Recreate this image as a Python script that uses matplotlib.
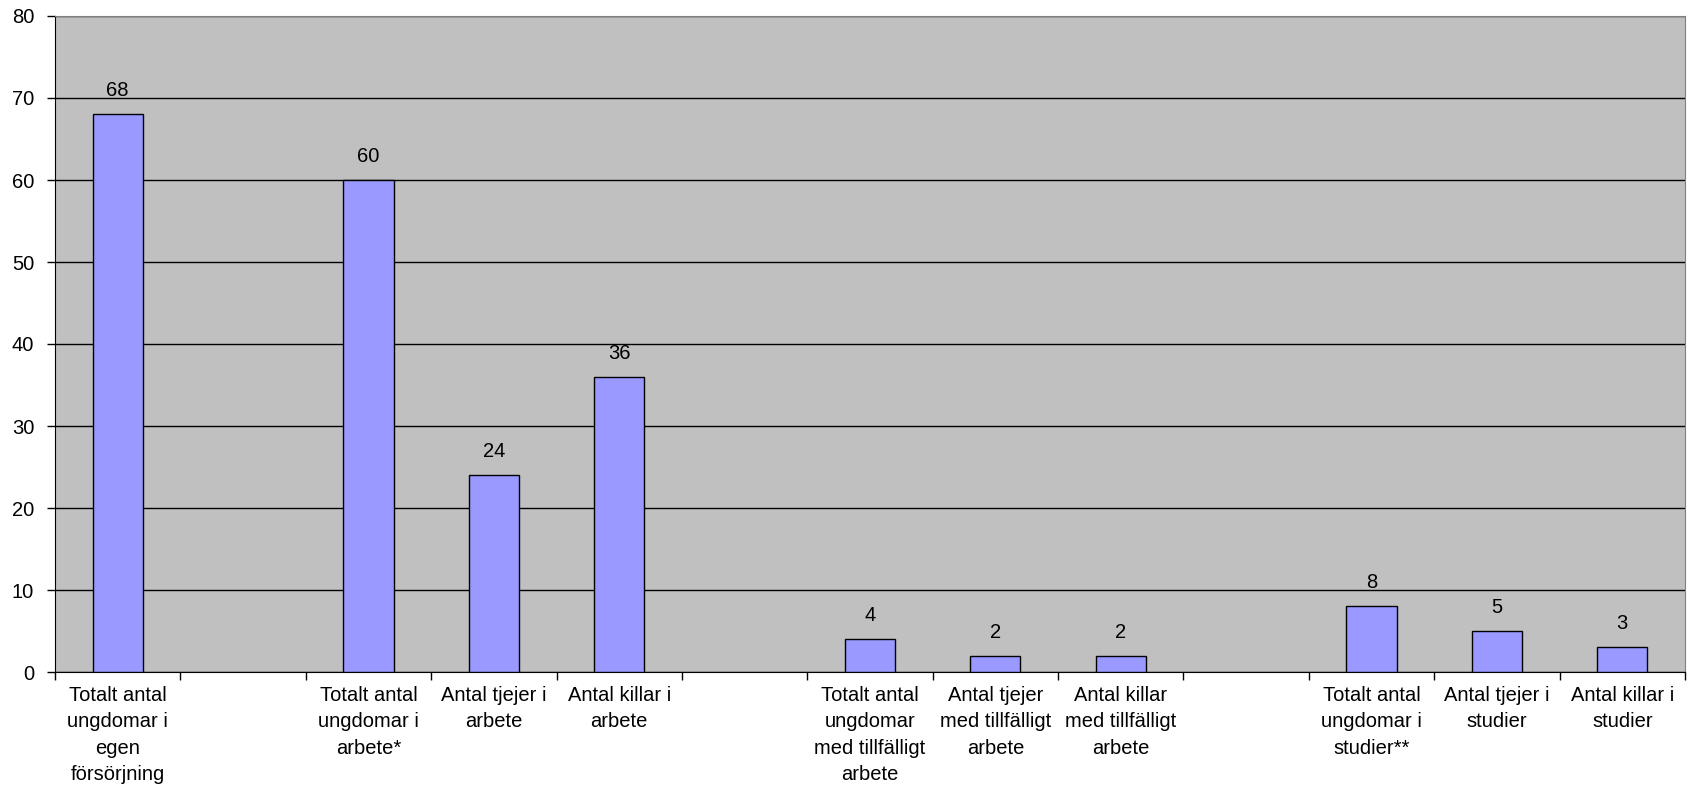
import numpy as np
import matplotlib
matplotlib.use("Agg")
import matplotlib.pyplot as plt

# categories (blank ones are empty slots in the original chart)
categories = [
    "Totalt antal\nungdomar i\negen\nförsörjning",
    "",
    "Totalt antal\nungdomar i\narbete*",
    "Antal tjejer i\narbete",
    "Antal killar i\narbete",
    "",
    "Totalt antal\nungdomar\nmed tillfälligt\narbete",
    "Antal tjejer\nmed tillfälligt\narbete",
    "Antal killar\nmed tillfälligt\narbete",
    "",
    "Totalt antal\nungdomar i\nstudier**",
    "Antal tjejer i\nstudier",
    "Antal killar i\nstudier",
]
values = [68, None, 60, 24, 36, None, 4, 2, 2, None, 8, 5, 3]
y_ticks = [0, 10, 20, 30, 40, 50, 60, 70, 80]

plt.rcParams['font.family'] = ['Liberation Sans', 'DejaVu Sans']

W, H = 1696, 787
fig = plt.figure(figsize=(W / 100, H / 100), dpi=100)
ax = fig.add_axes([55 / W, (H - 672) / H, (1685 - 55) / W, (672 - 16) / H])
ax.set_facecolor("#C0C0C0")

x = np.arange(len(categories))
for xi, v in zip(x, values):
    if v is None:
        continue
    ax.bar(xi, v, width=0.4, color="#9999FF", edgecolor="black", linewidth=1.0, zorder=3)
    ax.annotate(str(v), (xi, v), xytext=(0, 18), textcoords="offset pixels",
                ha="center", va="baseline", fontsize=14.5, color="black")

ax.set_xlim(-0.5, len(categories) - 0.5)
ax.set_ylim(0, 80)
ax.set_yticks(y_ticks)
ax.yaxis.grid(True, color="black", linewidth=1.0, zorder=1)
ax.set_axisbelow(True)

# ticks at category boundaries, labels at centres
ax.set_xticks(np.arange(-0.5, len(categories), 1.0))
ax.set_xticklabels([])
ax.set_xticks(x, minor=True)
ax.set_xticklabels(categories, minor=True, fontsize=14.5, linespacing=1.5, ha="center", va="top")
ax.tick_params(axis="x", which="major", direction="out", length=6, width=1, color="black")
ax.tick_params(axis="x", which="minor", length=0, pad=10)
ax.tick_params(axis="y", direction="out", length=6, width=1, color="black", pad=9, labelsize=14.5)

ax.spines["left"].set_color("black")
ax.spines["bottom"].set_color("black")
ax.spines["top"].set_color("#808080")
ax.spines["right"].set_color("#808080")

fig.savefig("out.png", dpi=100, facecolor="white")
